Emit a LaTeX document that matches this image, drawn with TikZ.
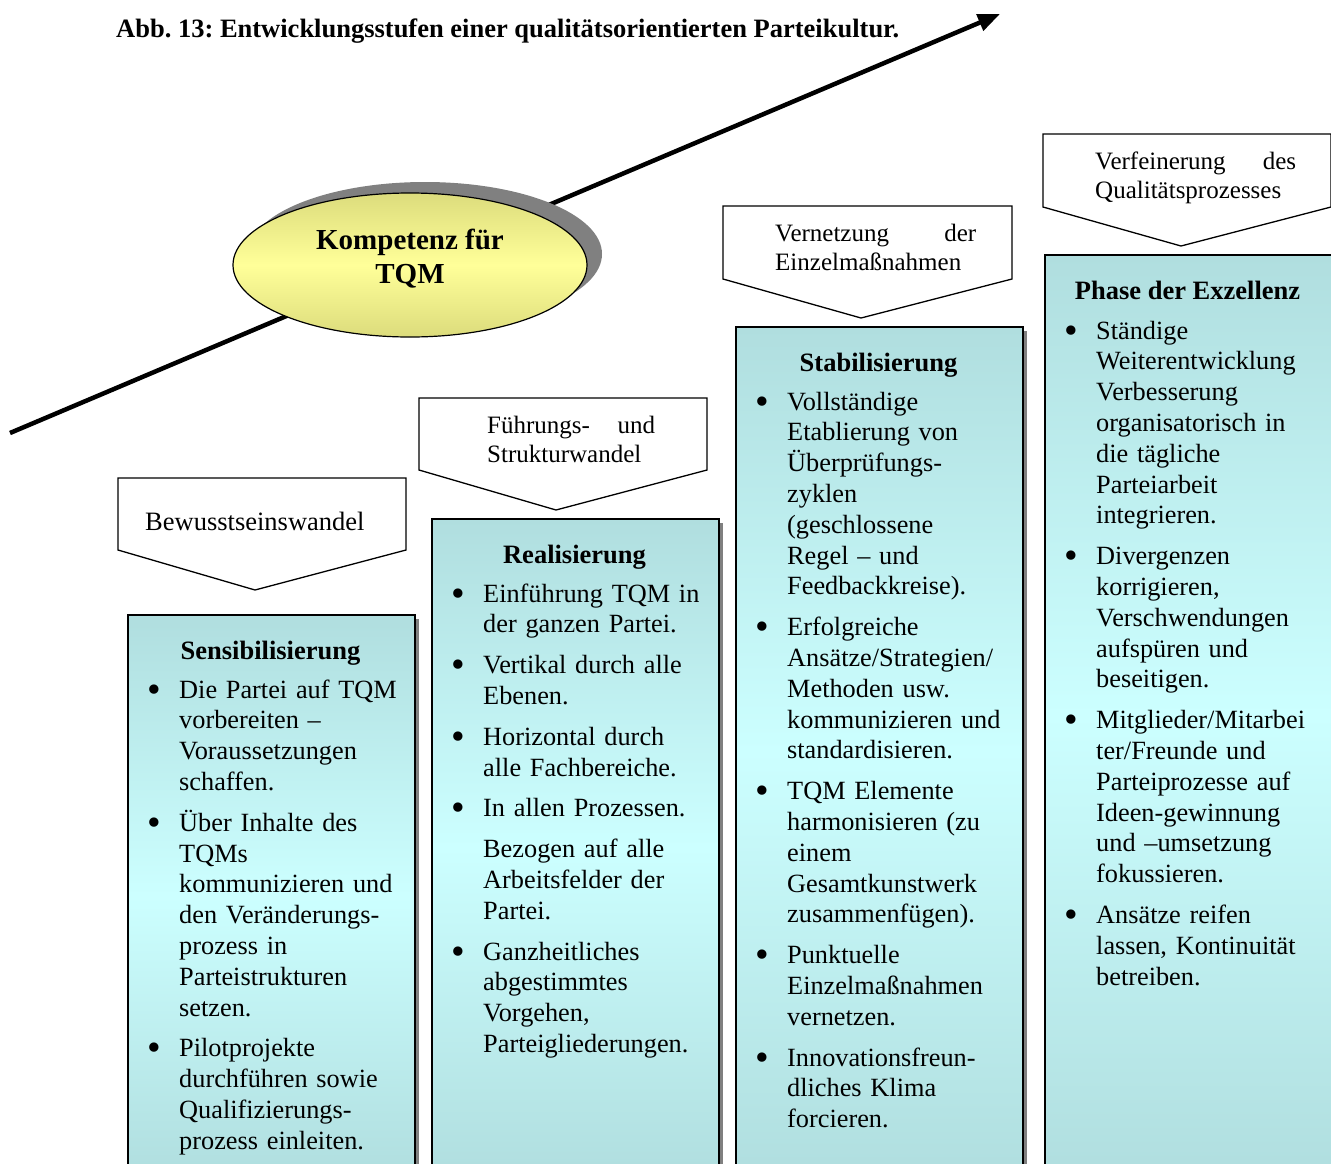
\documentclass[tikz,border=0pt]{standalone}
\usepackage{fontspec}
\setmainfont{Liberation Serif}
\usetikzlibrary{arrows.meta,shapes.geometric}
\frenchspacing

\definecolor{boxedge}{HTML}{B0DEDF}
\definecolor{boxlight}{HTML}{CCFFFF}
\definecolor{ovaledge}{HTML}{DCDC7C}
\definecolor{ovallight}{HTML}{FFFF99}
\definecolor{shadowgray}{HTML}{808080}

% item macros for the phase boxes (lines inside an item are broken with \newline)
\newcommand{\bigbullet}{\raisebox{-4pt}{\fontsize{39}{30}\selectfont\textbullet}}
\newcommand{\firstitm}[1]{\hangindent=32pt\hangafter=1\noindent\makebox[32pt][l]{\bigbullet}#1\par}
\newcommand{\itm}[1]{\par\vspace{10pt}\hangindent=32pt\hangafter=1\noindent\makebox[32pt][l]{\bigbullet}#1\par}
\newcommand{\plainitm}[1]{\par\vspace{10pt}\hangindent=32pt\hangafter=1\noindent\hspace*{32pt}#1\par}

\begin{document}
\begin{tikzpicture}[x=1pt,y=-1pt,
  phase/.style={draw=black, line width=2pt, rectangle, anchor=north west,
    minimum width=287pt, inner sep=0pt,
    top color=boxedge, bottom color=boxedge, middle color=boxlight},
  phaseshadow/.style={fill=shadowgray},
  callout/.style={draw=black, line width=1.3pt, fill=white, line join=miter},
  calloutlabel/.style={anchor=base west, inner sep=0pt, align=left,
    font=\fontsize{25}{29}\selectfont},
  phasetitle/.style={anchor=base, inner sep=0pt, font=\bfseries\fontsize{26.5}{31}\selectfont},
  phasebody/.style={anchor=base west, inner sep=0pt, text width=330pt,
    font=\fontsize{26.3}{30.8}\selectfont},
]
\clip (0,0) rectangle (1331,1163);
\fill[white] (0,0) rectangle (1331,1163);

% caption
\node[anchor=base west, inner sep=0pt, font=\bfseries\fontsize{26.5}{30}\selectfont] (caption) at (116,37)
  {Abb. 13: Entwicklungsstufen einer qualitätsorientierten Parteikultur.};

% rising competence arrow
\coordinate (arrowtail) at (10,433);
\coordinate (arrowtip) at (1000,14);
\draw[line width=4.5pt, -{Triangle[length=22pt,width=17pt]}] (arrowtail) -- (arrowtip);

% competence oval with its shadow
\node[ellipse, fill=shadowgray, minimum width=354pt, minimum height=144pt, inner sep=0pt] (ovalshadow) at (425,254) {};
\node[ellipse, draw=black, line width=1.2pt, minimum width=354pt, minimum height=144pt, inner sep=0pt,
  top color=ovaledge, bottom color=ovaledge, middle color=ovallight] (oval) at (410,265) {};
\node[align=center, inner sep=0pt, font=\bfseries\fontsize{29}{34}\selectfont] (ovaltext) at (410,259)
  {Kompetenz für\\TQM};

% callout arrows above the phases
\draw[callout] (118,478) -- (406,478) -- (406,550) -- (255,590) -- (118,550) -- cycle;
\draw[callout] (419,398) -- (707,398) -- (707,470) -- (556,510) -- (419,470) -- cycle;
\draw[callout] (723,206) -- (1012,206) -- (1012,279) -- (861,318) -- (723,279) -- cycle;
\draw[callout] (1043,134) -- (1331,134) -- (1331,207) -- (1181,246) -- (1043,207) -- cycle;

% labels: the base anchor sits on the last line
\node[calloutlabel, font=\fontsize{26.5}{29}\selectfont] (labelone) at (145,530) {Bewusstseinswandel};
\node[calloutlabel] (labeltwo) at (487,462) {\hbox to 168pt{Führungs-\hfill und}\\Strukturwandel};
\node[calloutlabel] (labelthree) at (775,270) {\hbox to 201pt{Vernetzung\hfill der}\\Einzelmaßnahmen};
\node[calloutlabel] (labelfour) at (1095,198) {\hbox to 201pt{Verfeinerung\hfill des}\\Qualitätsprozesses};

% phase boxes with shadows
\fill[phaseshadow] (132,619) rectangle (419,1180);
\fill[phaseshadow] (436,523) rectangle (723,1180);
\fill[phaseshadow] (740,331) rectangle (1027,1180);
\fill[phaseshadow] (1049,259) rectangle (1336,1180);
\node[phase, minimum height=561pt] (phaseone) at (127,614) {};
\node[phase, minimum height=657pt] (phasetwo) at (431,518) {};
\node[phase, minimum height=849pt] (phasethree) at (735,326) {};
\node[phase, minimum height=921pt] (phasefour) at (1044,254) {};

% phase titles
\node[phasetitle] (titleone) at (270.5,659) {Sensibilisierung};
\node[phasetitle] (titletwo) at (574.5,563) {Realisierung};
\node[phasetitle] (titlethree) at (878.5,371) {Stabilisierung};
\node[phasetitle] (titlefour) at (1187.5,299) {Phase der Exzellenz};

% phase contents
\node[phasebody] (bodyone) at (147,698) {%
\firstitm{Die Partei auf TQM\newline vorbereiten –\newline Voraussetzungen\newline schaffen.}
\itm{Über Inhalte des\newline TQMs\newline kommunizieren und\newline den Veränderungs-\newline prozess in\newline Parteistrukturen\newline setzen.}
\itm{Pilotprojekte\newline durchführen sowie\newline Qualifizierungs-\newline prozess einleiten.}};

\node[phasebody] (bodytwo) at (451,602) {%
\firstitm{Einführung TQM in\newline der ganzen Partei.}
\itm{Vertikal durch alle\newline Ebenen.}
\itm{Horizontal durch\newline alle Fachbereiche.}
\itm{In allen Prozessen.}
\plainitm{Bezogen auf alle\newline Arbeitsfelder der\newline Partei.}
\itm{Ganzheitliches\newline abgestimmtes\newline Vorgehen,\newline Parteigliederungen.}};

\node[phasebody] (bodythree) at (755,410) {%
\firstitm{Vollständige\newline Etablierung von\newline Überprüfungs-\newline zyklen\newline (geschlossene\newline Regel – und\newline Feedbackkreise).}
\itm{Erfolgreiche\newline Ansätze/Strategien/\newline Methoden usw.\newline kommunizieren und\newline standardisieren.}
\itm{TQM Elemente\newline harmonisieren (zu\newline einem\newline Gesamtkunstwerk\newline zusammenfügen).}
\itm{Punktuelle\newline Einzelmaßnahmen\newline vernetzen.}
\itm{Innovationsfreun-\newline dliches Klima\newline forcieren.}};

\node[phasebody] (bodyfour) at (1064,339) {%
\firstitm{Ständige\newline Weiterentwicklung\newline Verbesserung\newline organisatorisch in\newline die tägliche\newline Parteiarbeit\newline integrieren.}
\itm{Divergenzen\newline korrigieren,\newline Verschwendungen\newline aufspüren und\newline beseitigen.}
\itm{Mitglieder/Mitarbei\newline ter/Freunde und\newline Parteiprozesse auf\newline Ideen-gewinnung\newline und –umsetzung\newline fokussieren.}
\itm{Ansätze reifen\newline lassen, Kontinuität\newline betreiben.}};
\end{tikzpicture}
\end{document}
